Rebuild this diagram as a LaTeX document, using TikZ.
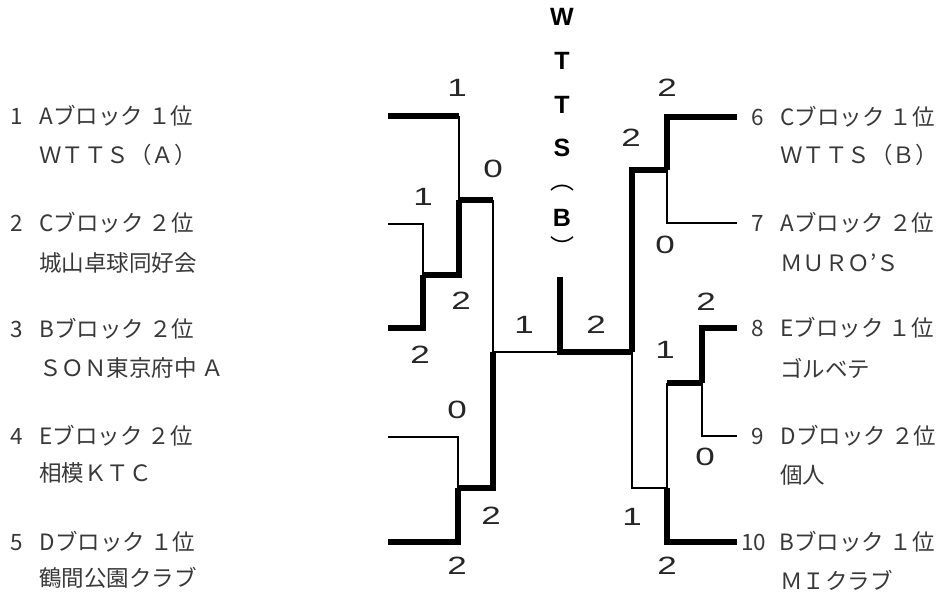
\documentclass[tikz,border=0pt]{standalone}
\usepackage{fontspec}
\setmainfont{Noto Sans CJK JP}
\newfontfamily\scorefont[FakeStretch=1.4]{Liberation Sans}
\newfontfamily\titlefont{Liberation Sans}
\colorlet{textc}{black!78}
\tikzset{
  win/.style={line width=5.5pt},
  lose/.style={line width=2.5pt},
  team/.style={anchor=west, inner sep=0pt, text=textc,
    font=\fontsize{22.5}{22.5}\selectfont},
  score/.style={inner sep=0pt, text=black!85, font=\scorefont\fontsize{25}{25}\selectfont},
  title/.style={inner sep=0pt, font=\titlefont\bfseries\fontsize{25}{25}\selectfont},
}
\newcommand\numgap{\hspace{0.75em}}

\begin{document}
\begin{tikzpicture}[x=1pt, y=-1pt]
    \useasboundingbox (0,0) rectangle (940,593);

    % Ends of the bracket
    \coordinate (t1) at (388,116);
    \coordinate (t2) at (388,224);
    \coordinate (t3) at (388,328);
    \coordinate (t4) at (388,437);
    \coordinate (t5) at (388,542);
    \coordinate (t6) at (737,117);
    \coordinate (t7) at (737,223);
    \coordinate (t8) at (737,328);
    \coordinate (t9) at (737,436);
    \coordinate (t10) at (737,542);

    % Matches
    \coordinate (m23) at (423,275);
    \coordinate (m45) at (458,488);
    \coordinate (m67) at (667,170);
    \coordinate (m89) at (702,383);
    \coordinate (s1) at (459,200);
    \coordinate (s2) at (493,352);
    \coordinate (s3) at (632,352);
    \coordinate (s4) at (667,488);
    \coordinate (fin) at (560,352);
    \coordinate (top) at (560,277);

    % Left half
    \draw[win] (t1) -- (t1 -| s1);
    \draw[lose] (t1 -| s1) -- (s1);
    \draw[lose] (t2) -| (m23);
    \draw[win] (t3) -| (m23);
    \draw[win] (m23) -| (s1);
    \draw[win] (s1) -- (s1 -| s2);
    \draw[lose] (s1 -| s2) -- (s2);
    \draw[lose] (t4) -| (m45);
    \draw[win] (t5) -| (m45);
    \draw[win] (m45) -| (s2);

    % Final
    \draw[lose] (s2) -- (fin);
    \draw[win] (top) -- (fin) -- (s3);

    % Right half
    \draw[win] (t6) -| (m67);
    \draw[lose] (t7) -| (m67);
    \draw[win] (m67) -| (s3);
    \draw[win] (t8) -| (m89);
    \draw[lose] (t9) -| (m89);
    \draw[win] (m89) -- (m89 -| s4);
    \draw[lose] (m89 -| s4) -- (s4);
    \draw[win] (t10) -| (s4);
    \draw[lose] (s4) -| (s3);

    % Scores
    \node[score] (sc1) at (457,88) {1};
    \node[score] (sc2) at (423,197) {1};
    \node[score] (sc3) at (420,355) {2};
    \node[score] (sc4) at (457,410) {0};
    \node[score] (sc5) at (457,566) {2};
    \node[score] (sc23) at (461,301) {2};
    \node[score] (sc45) at (491,516) {2};
    \node[score] (sc1u) at (493,169) {0};
    \node[score] (scfl) at (524,325) {1};
    \node[score] (scfr) at (596,325) {2};
    \node[score] (sc6) at (667,88) {2};
    \node[score] (sc7) at (665,245) {0};
    \node[score] (sc8) at (706,302) {2};
    \node[score] (sc9) at (705,457) {0};
    \node[score] (sc10) at (667,566) {2};
    \node[score] (sc67) at (631,138) {2};
    \node[score] (sc89) at (665,350) {1};
    \node[score] (sc10u) at (632,517) {1};

    % Winner
    \foreach \ch/\y [count=\i] in {W/17, T/61, T/105, S/148, B/218}
        \node[title] (title\i) at (562,\y) {\ch};
    \node[inner sep=0pt, font=\fontsize{24}{24}\selectfont] (lpar) at (562,188) {︵};
    \node[inner sep=0pt, font=\fontsize{24}{24}\selectfont] (rpar) at (562,246) {︶};

    % Teams
    \node[team] (team1) at (10,116) {1\numgap Aブロック １位};
    \node[team] (name1) at (39,155) {ＷＴＴＳ（Ａ）};
    \node[team] (team2) at (10,223) {2\numgap Cブロック ２位};
    \node[team] (name2) at (39,263) {城山卓球同好会};
    \node[team] (team3) at (10,329) {3\numgap Bブロック ２位};
    \node[team] (name3) at (39,368) {ＳＯＮ東京府中 Ａ};
    \node[team] (team4) at (10,436) {4\numgap Eブロック ２位};
    \node[team] (name4) at (39,473) {相模ＫＴＣ};
    \node[team] (team5) at (10,542) {5\numgap Dブロック １位};
    \node[team] (name5) at (39,578) {鶴間公園クラブ};
    \node[team] (team6) at (751,117) {6\numgap Cブロック １位};
    \node[team] (name6) at (780,155) {ＷＴＴＳ（Ｂ）};
    \node[team] (team7) at (751,223) {7\numgap Aブロック ２位};
    \node[team] (name7) at (780,263) {ＭＵＲＯ’Ｓ};
    \node[team] (team8) at (751,328) {8\numgap Eブロック １位};
    \node[team] (name8) at (780,368) {ゴルベテ};
    \node[team] (team9) at (751,436) {9\numgap Dブロック ２位};
    \node[team] (name9) at (780,475) {個人};
    \node[team] (team10) at (741,542) {10\hspace{0.6em}Bブロック １位};
    \node[team] (name10) at (780,580) {ＭＩクラブ};
\end{tikzpicture}
\end{document}
